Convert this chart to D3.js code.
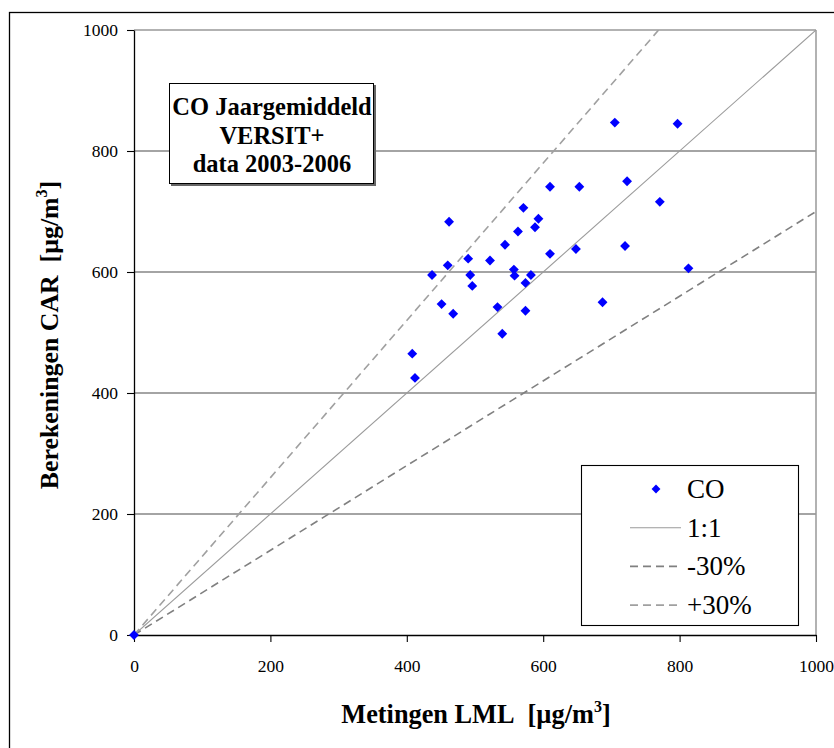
<!DOCTYPE html>
<html>
<head>
<meta charset="utf-8">
<script src="https://cdn.jsdelivr.net/npm/d3@7"></script>
<style>
  html, body { margin: 0; padding: 0; background: #fff; }
  svg { display: block; }
  text { font-family: "Liberation Serif", "Times New Roman", serif; }
</style>
</head>
<body>
<svg id="chart" width="834" height="748"></svg>
<script>
// Measured annual mean CO (LML) against computed CAR values, µg/m3
const measured = [705, 723, 610, 653, 571, 593, 588, 462, 563, 544, 648, 720, 610, 490, 522,
  460, 437, 493, 557, 558, 582, 574, 496, 451, 468, 533, 574, 687, 540, 797, 771, 813, 408, 412, 0];
const computed = [847, 750, 741, 741, 706, 688, 674, 683, 667, 645, 638, 643, 630, 622, 619,
  611, 595, 595, 604, 594, 595, 582, 577, 547, 531, 542, 536, 550, 498, 845, 716, 606, 465, 425, 0];

const xTicks = [0, 200, 400, 600, 800, 1000];
const yTicks = [0, 200, 400, 600, 800, 1000];

// Reference lines: slope relative to the 1:1 line
const refNames = ["1:1", "-30%", "+30%"];
const refSlopes = [1, 0.7, 1.3];

const svg = d3.select("#chart");
const W = 834, H = 748;
const plot = { left: 134, right: 816, top: 30, bottom: 635 };

// Outer frame of the chart
svg.append("rect")
  .attr("x", 9.5).attr("y", 12.5)
  .attr("width", W + 20).attr("height", H + 20)
  .attr("fill", "#fff").attr("stroke", "#000").attr("stroke-width", 1.3);

const x = d3.scaleLinear().domain([0, 1000]).range([plot.left, plot.right]);
const y = d3.scaleLinear().domain([0, 1000]).range([plot.bottom, plot.top]);

// Horizontal gridlines
svg.append("g").selectAll("line")
  .data(yTicks.filter(d => d > 0))
  .join("line")
  .attr("x1", plot.left).attr("x2", plot.right)
  .attr("y1", d => y(d)).attr("y2", d => y(d))
  .attr("stroke", d => d === 1000 ? "#666" : "#4a4a4a")
  .attr("stroke-width", 1.2);

// Right border of the plot area
svg.append("line")
  .attr("x1", plot.right).attr("x2", plot.right)
  .attr("y1", plot.top).attr("y2", plot.bottom)
  .attr("stroke", "#999").attr("stroke-width", 1.5);

// Clip region for the reference lines
svg.append("clipPath").attr("id", "plotClip")
  .append("rect")
  .attr("x", plot.left).attr("y", plot.top)
  .attr("width", plot.right - plot.left).attr("height", plot.bottom - plot.top);

const refStyle = {
  "1:1": { stroke: "#9a9a9a", width: 1.1, dash: null },
  "-30%": { stroke: "#808080", width: 1.6, dash: "8,5" },
  "+30%": { stroke: "#a0a0a0", width: 1.6, dash: "8,5" }
};

const line = d3.line().x(d => x(d[0])).y(d => y(d[1]));
const refG = svg.append("g").attr("clip-path", "url(#plotClip)");
refNames.forEach((name, i) => {
  const s = refSlopes[i];
  const xEnd = Math.min(1000, 1000 / s);
  const p = refG.append("path")
    .attr("d", line([[0, 0], [xEnd, xEnd * s]]))
    .attr("fill", "none")
    .attr("stroke", refStyle[name].stroke)
    .attr("stroke-width", refStyle[name].width);
  if (refStyle[name].dash) p.attr("stroke-dasharray", refStyle[name].dash);
});

// Axes
const fmt = d3.format("d");
const xAxis = svg.append("g")
  .attr("transform", `translate(0,${plot.bottom})`)
  .call(d3.axisBottom(x).tickValues(xTicks).tickFormat(fmt).tickSize(7).tickSizeOuter(0).tickPadding(18));
const yAxis = svg.append("g")
  .attr("transform", `translate(${plot.left},0)`)
  .call(d3.axisLeft(y).tickValues(yTicks).tickFormat(fmt).tickSize(7).tickSizeOuter(0).tickPadding(9));
[xAxis, yAxis].forEach(g => {
  g.attr("font-family", null);
  g.select(".domain").attr("stroke", "#000").attr("stroke-width", 1.3);
  g.selectAll(".tick line").attr("stroke", "#000").attr("stroke-width", 1.1);
  g.selectAll(".tick text").attr("font-size", 17.5).attr("fill", "#000");
});

// Diamond markers
const diamond = d3.symbol().type(d3.symbolDiamond2).size(62);
svg.append("g").selectAll("path")
  .data(measured.map((m, i) => [m, computed[i]]))
  .join("path")
  .attr("d", diamond)
  .attr("transform", d => `translate(${x(d[0])},${y(d[1])})`)
  .attr("fill", "#0000ff");

// Axis titles
svg.append("text")
  .attr("x", 476).attr("y", 723)
  .attr("text-anchor", "middle")
  .attr("font-size", 26.3).attr("font-weight", "bold")
  .html('Metingen LML\u00a0\u00a0[\u00b5g/m<tspan dy="-11" font-size="16">3</tspan><tspan dy="11">]</tspan>');

svg.append("text")
  .attr("transform", "translate(58,335) rotate(-90)")
  .attr("text-anchor", "middle")
  .attr("font-size", 25.8).attr("font-weight", "bold")
  .html('Berekeningen CAR\u00a0\u00a0[\u00b5g/m<tspan dy="-11" font-size="16">3</tspan><tspan dy="11">]</tspan>');

// Annotation box
const note = svg.append("g");
note.append("rect")
  .attr("x", 171).attr("y", 85).attr("width", 205).attr("height", 101)
  .attr("fill", "#666");
note.append("rect")
  .attr("x", 169.5).attr("y", 83.5).attr("width", 204).attr("height", 100)
  .attr("fill", "#fff").attr("stroke", "#000").attr("stroke-width", 1);
["CO Jaargemiddeld", "VERSIT+", "data 2003-2006"].forEach((t, i) => {
  note.append("text")
    .attr("x", 272).attr("y", 115 + i * 28.5)
    .attr("text-anchor", "middle")
    .attr("font-size", 24.5).attr("font-weight", "bold")
    .text(t);
});

// Legend
const legend = svg.append("g");
legend.append("rect")
  .attr("x", 581.5).attr("y", 465.5).attr("width", 217).attr("height", 160)
  .attr("fill", "#fff").attr("stroke", "#000").attr("stroke-width", 1.1);
const legendItems = ["CO"].concat(refNames);
legendItems.forEach((name, i) => {
  const cy = 489 + i * 38.7;
  if (i === 0) {
    legend.append("path")
      .attr("d", d3.symbol().type(d3.symbolDiamond2).size(50))
      .attr("transform", `translate(656,${cy})`)
      .attr("fill", "#0000ff");
  } else {
    const st = refStyle[name];
    const l = legend.append("line")
      .attr("x1", 630).attr("x2", 681).attr("y1", cy).attr("y2", cy)
      .attr("stroke", st.stroke).attr("stroke-width", st.width);
    if (st.dash) l.attr("stroke-dasharray", st.dash);
  }
  legend.append("text")
    .attr("x", 687).attr("y", cy + 9)
    .attr("font-size", 27)
    .text(name);
});
</script>
</body>
</html>
